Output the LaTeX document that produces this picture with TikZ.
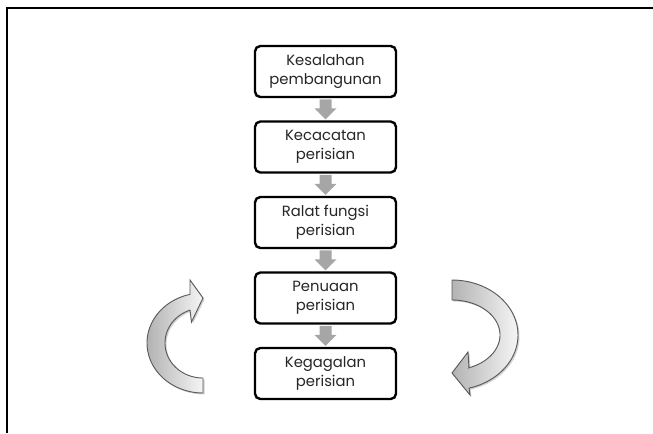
\documentclass[tikz,border=0pt]{standalone}
\usepackage{fontspec}
\setmainfont{Poppins}
\usetikzlibrary{calc}
\definecolor{arrgray}{HTML}{A6A6A6}
\definecolor{curveedge}{HTML}{5A5A5A}
\tikzset{
  stagebox/.style={draw=black, line width=1.8pt, rounded corners=4pt, fill=white,
    minimum width=105.75pt, minimum height=38.25pt, align=center, inner sep=1pt,
    font=\fontsize{11.1}{14.6}\selectfont, text=black!85},
  downarr/.style={fill=arrgray, draw=none},
  curvearr/.style={left color=black!30, right color=black!4, draw=curveedge, line width=0.7pt},
  curveshadow/.style={fill=black!18, draw=none}
}
\begin{document}
\begin{tikzpicture}[x=0.75pt, y=-0.75pt]
\useasboundingbox (0,0) rectangle (653,433);
% frame
\draw[line width=1.5pt] (7,433) -- (7,8) -- (653,8);
% boxes
\node[stagebox] (b1) at (325.5,71.5) {Kesalahan\\pembangunan};
\node[stagebox] (b2) at (325.5,147) {Kecacatan\\perisian};
\node[stagebox] (b3) at (325.5,222.5) {Ralat fungsi\\perisian};
\node[stagebox] (b4) at (325.5,298) {Penuaan\\perisian};
\node[stagebox] (b5) at (325.5,373.5) {Kegagalan\\perisian};
% down arrows
\foreach \a/\b in {b1/b2,b2/b3,b3/b4,b4/b5}{
  \coordinate (m) at ($(\a.south)!0.5!(\b.north)$);
  \fill[downarr] (m) ++(-6,-10) -- ++(12,0) -- ++(0,9) -- ++(5,0) -- ++(-11,11) -- ++(-11,-11) -- ++(5,0) -- cycle;
}
% left curved arrow (shadow + shape)
\foreach \s/\st in {1.5/curveshadow,0/curvearr}{
  \path[\st, shift={(\s,\s)}]
    plot[domain=90:256.6, samples=50] ({203+56*cos(\x)}, {343+50*sin(\x)})
    -- (190,280) -- (203,298) -- (191.5,322) -- (190,310.1)
    -- plot[domain=250:90, samples=50] ({203+38*cos(\x)}, {343+35*sin(\x)})
    -- cycle;
}
% right curved arrow (shadow + shape)
\foreach \s/\st in {1.5/curveshadow,0/curvearr}{
  \path[\st, shift={(\s,\s)}]
    plot[domain=-90:75, samples=50] ({452+66*cos(\x)}, {335+55*sin(\x)})
    -- (470,395) -- (452,373) -- (468,352) -- (469,367.7)
    -- plot[domain=69.3:-90, samples=50] ({452+48*cos(\x)}, {335+35*sin(\x)})
    -- cycle;
}
\end{tikzpicture}
\end{document}
